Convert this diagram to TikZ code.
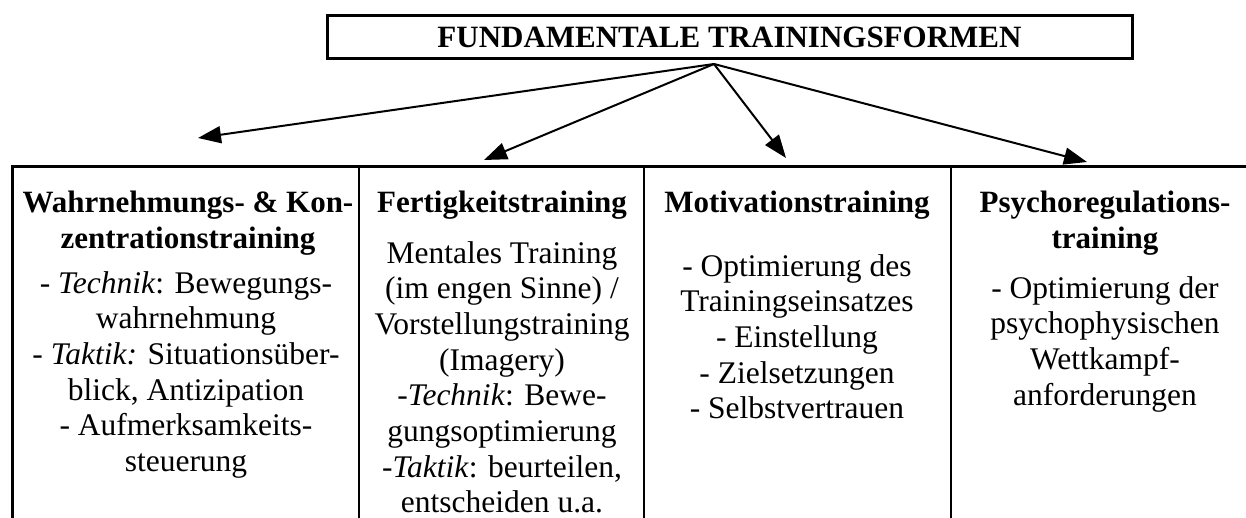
\documentclass[tikz,border=0pt]{standalone}
\usepackage{fontspec}
\setmainfont{Liberation Serif}
\usetikzlibrary{arrows.meta}

\begin{document}
\begin{tikzpicture}[x=1pt,y=-1pt,
  frame/.style={line width=3pt},
  sep/.style={line width=2.4pt},
  link/.style={line width=2pt,-{Triangle[length=23pt,width=17pt]}},
  cell/.style={anchor=north,align=center,inner sep=0pt,
    font=\fontsize{31.5}{35.7}\selectfont},
  head/.style={cell,font=\fontsize{31}{35.5}\selectfont\bfseries},
]
\useasboundingbox (0,0) rectangle (1246,518);

% title box
\node[draw,frame,minimum width=805pt,minimum height=43pt,inner sep=0pt,
      font=\fontsize{31}{35}\selectfont\bfseries]
  (title) at (729.5,37.5) {FUNDAMENTALE TRAININGSFORMEN};

% arrows from the title to the four columns
\coordinate (apex) at (714,64);
\coordinate (t1) at (198,138);
\coordinate (t2) at (484,160);
\coordinate (t3) at (786,158);
\coordinate (t4) at (1087,162);
\draw[link] (apex) -- (t1);
\draw[link] (apex) -- (t2);
\draw[link] (apex) -- (t3);
\draw[link] (apex) -- (t4);

% table frame
\draw[frame] (12,518) -- (12,167) -- (1246,167);
\draw[sep] (359,167) -- (359,518);
\draw[sep] (644,167) -- (644,518);
\draw[sep] (951,167) -- (951,518);

% column 1
\node[head] (h1) at (188,191) {Wahrnehmungs- \& Kon-\\zentrationstraining};
\node[cell] (b1) at (186,271) {- \textit{Technik}: Bewegungs-\\wahrnehmung\\
  - \textit{Taktik:} Situationsüber-\\blick, Antizipation\\
  - Aufmerksamkeits-\\steuerung};

% column 2
\node[head] (h2) at (502,191) {Fertigkeitstraining};
\node[cell] (b2) at (502,241) {Mentales Training\\(im engen Sinne) /\\
  Vorstellungstraining\\(Imagery)\\-\textit{Technik}: Bewe-\\gungsoptimierung\\
  -\textit{Taktik}: beurteilen,\\entscheiden u.a.};

% column 3
\node[head] (h3) at (797,191) {Motivationstraining};
\node[cell] (b3) at (797,254) {- Optimierung des\\Trainingseinsatzes\\
  - Einstellung\\- Zielsetzungen\\- Selbstvertrauen};

% column 4
\node[head] (h4) at (1105,191) {Psychoregulations-\\training};
\node[cell] (b4) at (1105,276) {- Optimierung der\\psychophysischen\\
  Wettkampf-\\anforderungen};
\end{tikzpicture}
\end{document}
